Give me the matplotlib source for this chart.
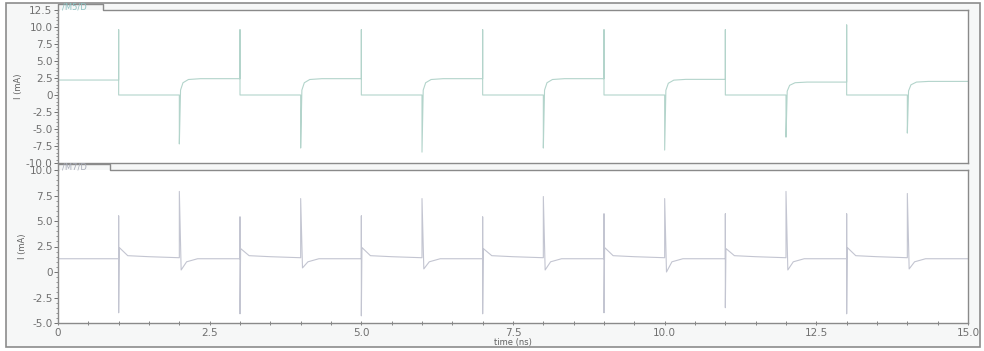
#!/usr/bin/env python3
"""Drain current of M5 and M7 over 15 ns, two stacked transient panels."""

import numpy as np
import matplotlib
matplotlib.use('Agg')
import matplotlib.pyplot as plt
from matplotlib.patches import Rectangle
from matplotlib.ticker import MultipleLocator

plt.rcParams['axes.unicode_minus'] = False
plt.rcParams['font.family'] = 'DejaVu Sans'

# /M5/D : spikes on the clock edges, level switches between high and ~0
m5_start_level = 2.2
m5_up_t = [1, 3, 5, 7, 9, 11, 13]
m5_up_peak = [9.6, 9.6, 9.6, 9.6, 9.6, 9.6, 10.3]
m5_low = [0.0, 0.0, 0.0, 0.0, 0.0, 0.0, 0.0]
m5_dn_t = [2, 4, 6, 8, 10, 12, 14]
m5_dn_peak = [-7.2, -7.8, -8.4, -7.8, -8.1, -6.2, -5.6]
m5_high = [2.4, 2.4, 2.4, 2.4, 2.3, 1.9, 2.0]

# /M7/D : bipolar spikes on odd edges, positive spike + small dip on even edges
m7_base = 1.3
m7_odd_t = [1, 3, 5, 7, 9, 11, 13]
m7_odd_hi = [5.5, 5.4, 5.5, 5.4, 5.7, 5.7, 5.7]
m7_odd_lo = [-4.0, -4.1, -4.3, -4.1, -4.0, -3.5, -4.1]
m7_odd_bump = [2.4, 2.3, 2.4, 2.3, 2.4, 2.3, 2.4]
m7_odd_tail = [1.6, 1.6, 1.6, 1.6, 1.6, 1.6, 1.6]
m7_even_t = [2, 4, 6, 8, 10, 12, 14]
m7_even_hi = [7.9, 7.2, 7.2, 7.4, 7.2, 7.9, 7.7]
m7_even_dip = [0.2, 0.4, 0.3, 0.2, 0.0, 0.2, 0.3]

t_end = 15.0
x_ticks = [0, 2.5, 5.0, 7.5, 10.0, 12.5, 15.0]
x_ticklabels = ['0', '2.5', '5.0', '7.5', '10.0', '12.5', '15.0']


def m5_trace():
    t, v = [0.0], [m5_start_level]
    level = m5_start_level
    for k in range(len(m5_up_t)):
        tu = m5_up_t[k]
        t += [tu, tu, tu]
        v += [level, m5_up_peak[k], m5_low[k]]
        level = m5_low[k]
        td = m5_dn_t[k]
        hi = m5_high[k]
        # sharp drop, then a rounded recovery to the high level
        t += [td, td, td + 0.02, td + 0.06, td + 0.15, td + 0.35]
        v += [level, m5_dn_peak[k], 0.3 * hi, 0.75 * hi, 0.95 * hi, hi]
        level = hi
    t.append(t_end)
    v.append(level)
    return np.array(t), np.array(v)


def m7_trace():
    t, v = [0.0], [m7_base]
    for k in range(len(m7_odd_t)):
        to = m7_odd_t[k]
        t += [to, to, to, to + 0.01, to + 0.15, to + 0.5, m7_even_t[k]]
        v += [m7_base, m7_odd_hi[k], m7_odd_lo[k], m7_odd_bump[k],
              m7_odd_tail[k], m7_odd_tail[k] - 0.1, m7_odd_tail[k] - 0.2]
        te = m7_even_t[k]
        t += [te, te + 0.03, te + 0.12, te + 0.3]
        v += [m7_even_hi[k], m7_even_dip[k], 1.0, m7_base]
    t.append(t_end)
    v.append(m7_base)
    return np.array(t), np.array(v)


fig = plt.figure(figsize=(9.84, 3.51), dpi=100, facecolor='white')

# outer frame of the viewer window, kept behind the axes
frame = Rectangle((6 / 984, 4 / 351), 974 / 984, 344 / 351,
                  transform=fig.transFigure, facecolor='#f6f7f7',
                  edgecolor='#8c8c8c', lw=1.2, zorder=-10)
fig.add_artist(frame)

left, width = 58 / 984, 910 / 984
ax_top = fig.add_axes([left, 1 - 163 / 351, width, 153 / 351])
ax_bot = fig.add_axes([left, 1 - 323 / 351, width, 153 / 351])

tick_color = '#707070'
frame_color = '#8a8a8a'

panels = [
    (ax_top, m5_trace(), (-10, 12.5), '/M5/D', '#b3d4cb', '#8cc2c2', 45),
    (ax_bot, m7_trace(), (-5, 10), '/M7/D', '#c3c5d1', '#a8acb8', 52),
]

for ax, (tt, vv), ylim, name, lc, tc, tab_px in panels:
    ax.set_facecolor('white')
    ax.plot(tt, vv, color=lc, lw=0.8)
    ax.set_xlim(0, t_end)
    ax.set_ylim(*ylim)
    yt = np.arange(ylim[0], ylim[1] + 0.01, 2.5)
    ax.set_yticks(yt)
    ax.set_yticklabels(['0' if abs(y) < 1e-9 else f'{y:.1f}' for y in yt])
    ax.yaxis.set_minor_locator(MultipleLocator(0.5))
    ax.set_xticks(x_ticks)
    ax.xaxis.set_minor_locator(MultipleLocator(0.5))
    ax.tick_params(axis='y', which='major', length=3, width=0.7,
                   colors=tick_color, labelsize=7.5, pad=1)
    ax.tick_params(axis='y', which='minor', length=1.5, width=0.5,
                   colors=tick_color)
    ax.tick_params(axis='x', which='both', direction='inout', length=3,
                   width=0.6, colors=tick_color, labelsize=7.5, pad=2)
    ax.set_ylabel('I (mA)', fontsize=6, color='#606060', labelpad=2)
    for side in ['left', 'right', 'bottom']:
        ax.spines[side].set_color(frame_color)
        ax.spines[side].set_linewidth(1.0)
    ax.spines['top'].set_visible(False)

    # top edge with the signal-name tab in the upper-left corner
    h = ax.bbox.height
    w = ax.bbox.width
    tab_h = 6.5 / h
    tab_w = tab_px / w
    ax.plot([0, 0, tab_w, tab_w, 1], [1, 1 + tab_h, 1 + tab_h, 1, 1],
            transform=ax.transAxes, color=frame_color, lw=1.0, clip_on=False)
    ax.text(0.004, 1 + tab_h / 2, name, transform=ax.transAxes, fontsize=6,
            color=tc, va='center', ha='left', clip_on=False)

ax_top.tick_params(axis='x', labelbottom=False, length=0, which='both')
ax_bot.set_xticklabels(x_ticklabels)
ax_bot.set_xlabel('time (ns)', fontsize=6, color='#606060', labelpad=0)

fig.savefig('out.png', dpi=100, facecolor='white')
